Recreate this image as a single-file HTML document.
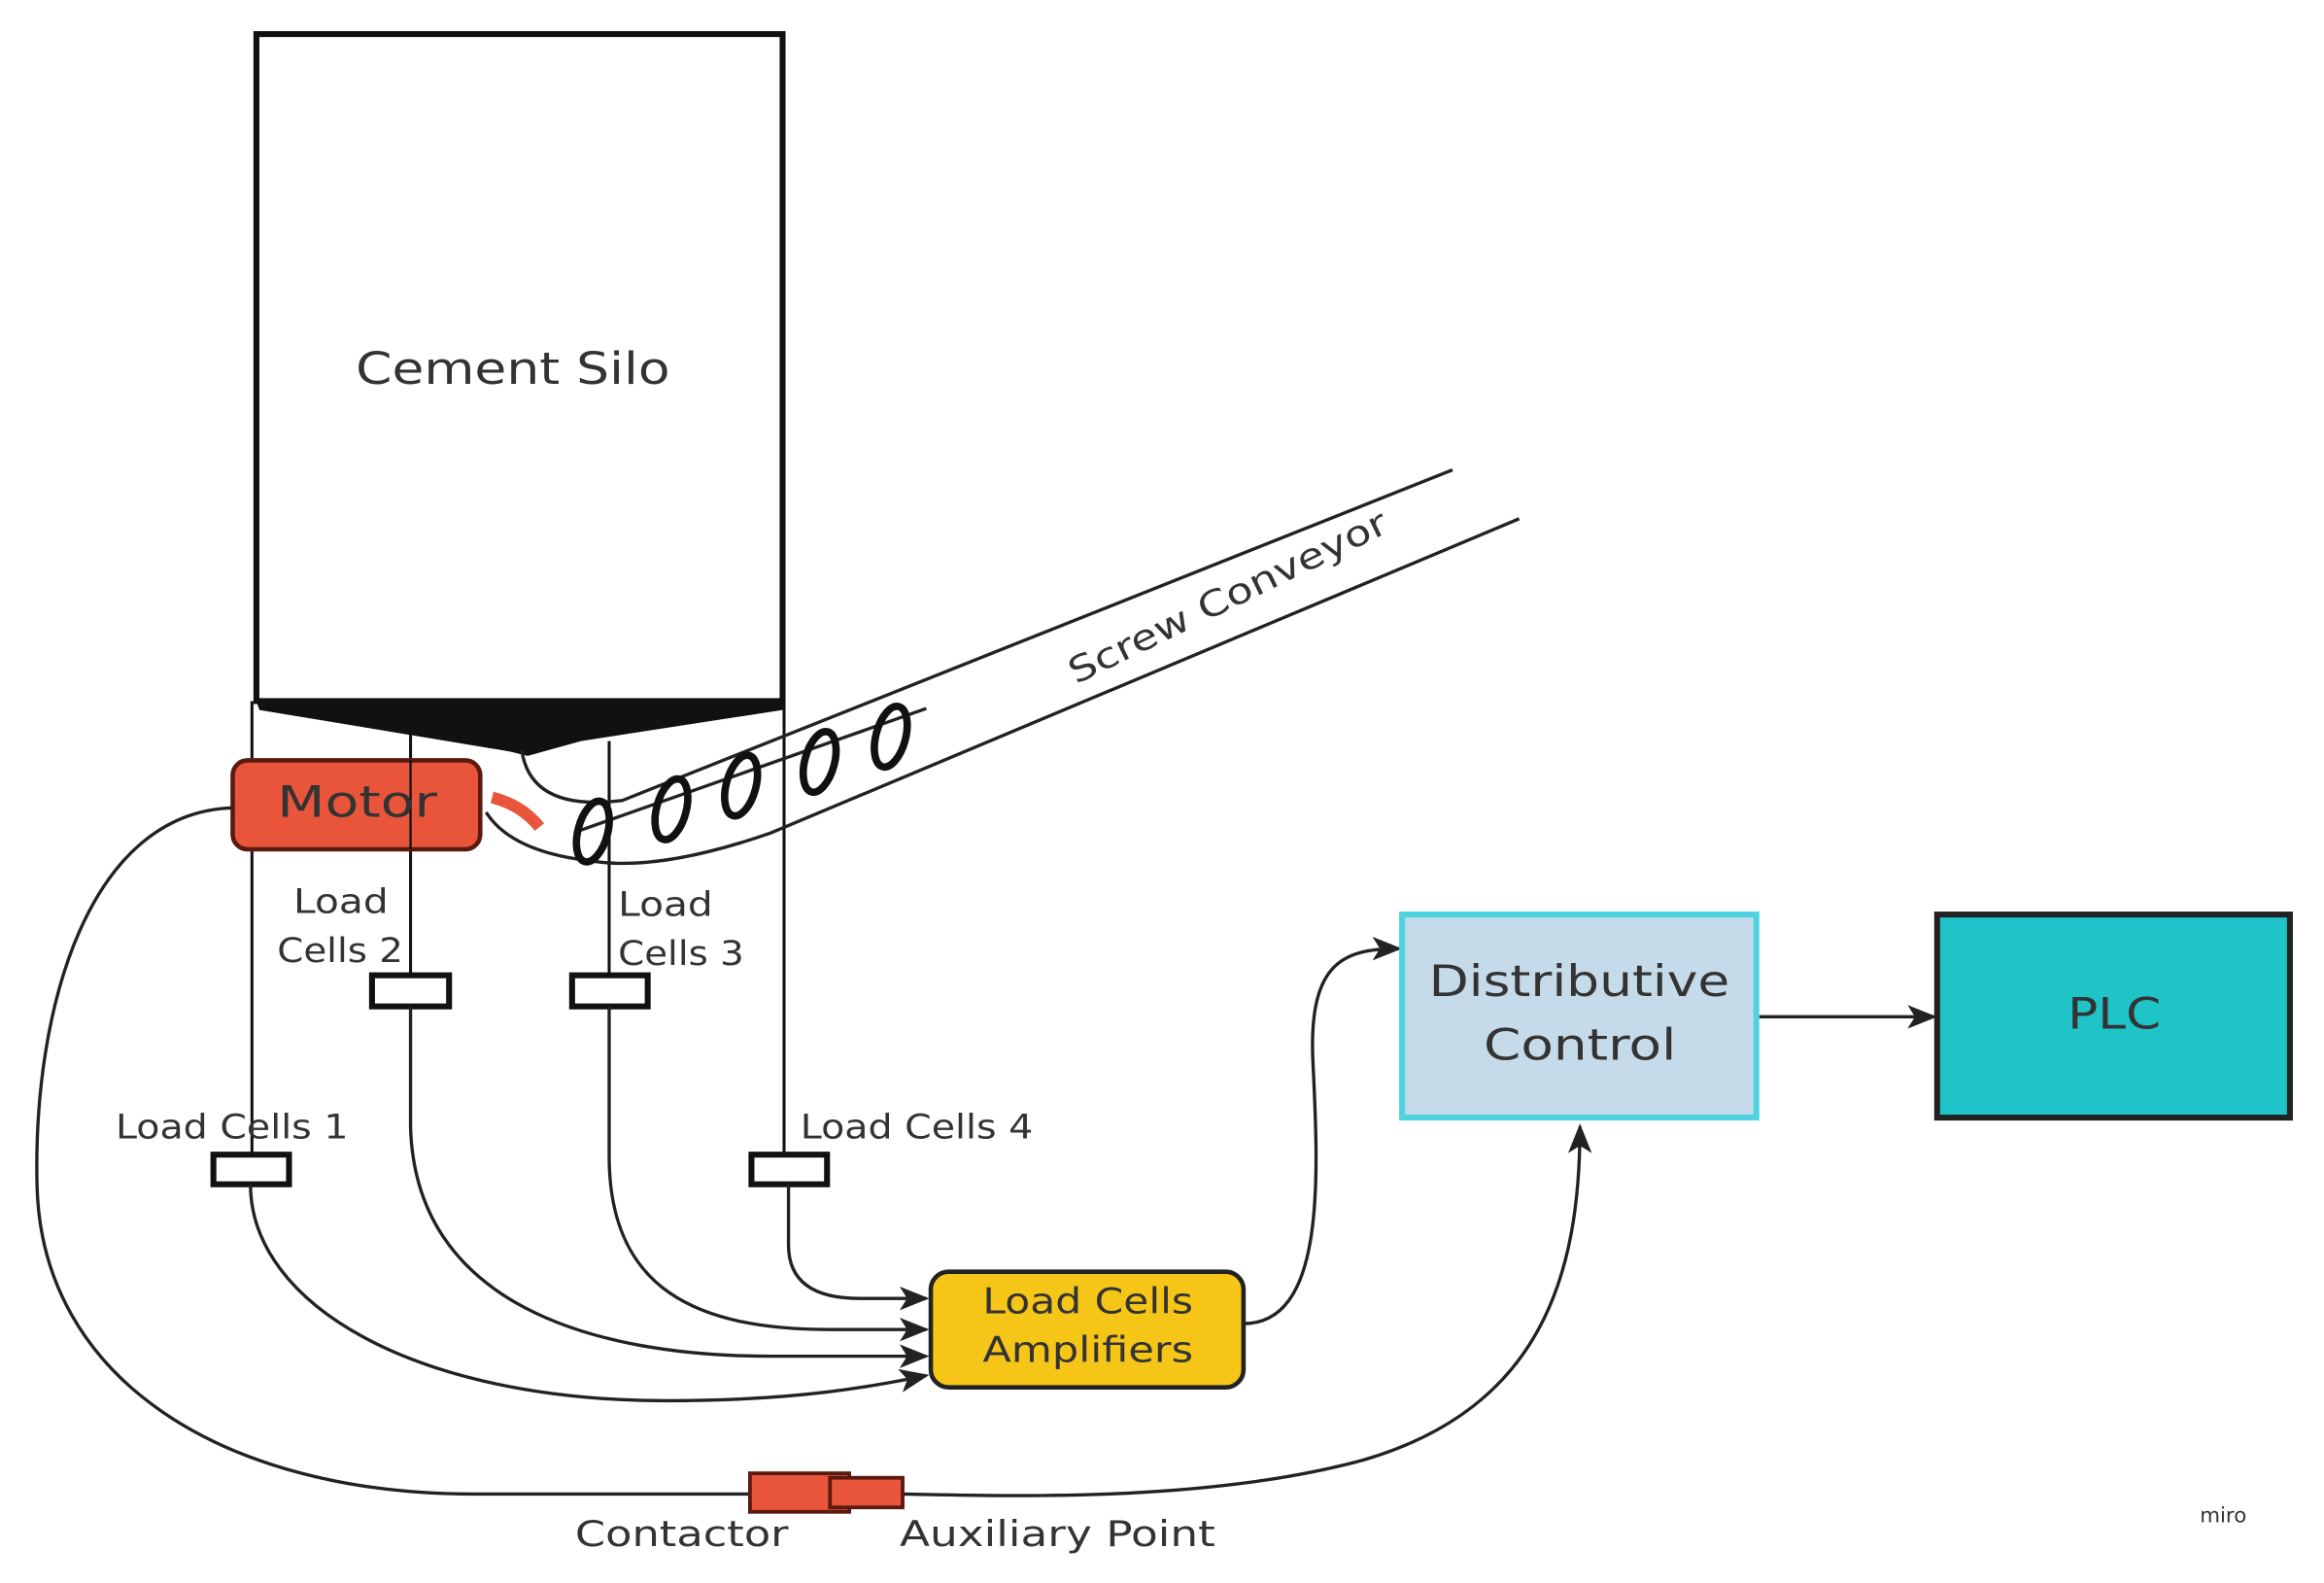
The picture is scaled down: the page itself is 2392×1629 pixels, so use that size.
<!DOCTYPE html>
<html><head><meta charset="utf-8"><style>
html,body{margin:0;padding:0;background:#fff;}
svg{display:block;}
text{font-family:"DejaVu Sans","Liberation Sans",sans-serif;fill:#333;}
</style></head><body>
<svg width="2392" height="1629" viewBox="0 0 1568 1068" xmlns="http://www.w3.org/2000/svg" preserveAspectRatio="none">
<defs>
<marker id="ahb" markerWidth="20" markerHeight="16" refX="18" refY="8" orient="auto" markerUnits="userSpaceOnUse"><path d="M0,0 L20,8 L0,16 L5,8 Z" fill="#222"/></marker>
</defs>
<rect width="1568" height="1068" fill="#fff"/>
<rect x="173" y="23" width="355" height="450" fill="#fff" stroke="#111" stroke-width="4"/>
<text x="240" y="259" font-size="30" textLength="212" lengthAdjust="spacingAndGlyphs">Cement Silo</text>
<polygon points="173,473 528,473 528,479 392,500 356,510 344,507 175,479" fill="#111"/>
<g stroke="#111" stroke-width="2" fill="none">
<line x1="170" y1="473" x2="170" y2="780"/>
<line x1="277" y1="490" x2="277" y2="660"/>
<line x1="411" y1="500" x2="411" y2="660"/>
<line x1="529" y1="473" x2="529" y2="780"/>
</g>
<g stroke="#222" stroke-width="2.2" fill="none">
<path d="M980,317 L420,540 Q358,548 352,506"/>
<path d="M1025,350 L520,562 Q445,588 400,581 Q345,575 328,548"/>
<path d="M625,478 L392,560"/>
</g>
<g stroke="#111" stroke-width="5" fill="none">
<ellipse cx="400" cy="561" rx="10" ry="21" transform="rotate(15 400 561)"/>
<ellipse cx="453" cy="546" rx="10" ry="21" transform="rotate(15 453 546)"/>
<ellipse cx="500" cy="530" rx="10" ry="21" transform="rotate(15 500 530)"/>
<ellipse cx="553" cy="514" rx="10" ry="21" transform="rotate(15 553 514)"/>
<ellipse cx="601" cy="497" rx="10" ry="21" transform="rotate(15 601 497)"/>
</g>
<path d="M332,538 Q352,543 364,558" stroke="#e8553a" stroke-width="8" fill="none"/>
<text x="828" y="411" font-size="24" fill="#444" text-anchor="middle" textLength="236" lengthAdjust="spacingAndGlyphs" transform="rotate(-26 828 402)">Screw Conveyor</text>
<rect x="157" y="513" width="167" height="60" rx="10" fill="#e8553a" stroke="#5a1a10" stroke-width="3"/>
<line x1="277" y1="513" x2="277" y2="573" stroke="#111" stroke-width="1.5"/>
<text x="187" y="551" font-size="29" fill="#4a1208" textLength="108" lengthAdjust="spacingAndGlyphs">Motor</text>
<g fill="#fff" stroke="#111" stroke-width="4">
<rect x="144" y="779" width="51" height="20"/>
<rect x="251" y="658" width="52" height="21"/>
<rect x="386" y="658" width="51" height="21"/>
<rect x="507" y="779" width="51" height="20"/>
</g>
<g font-size="23" fill="#3a3a3a">
<text x="198" y="616" textLength="64" lengthAdjust="spacingAndGlyphs">Load</text>
<text x="187" y="649" textLength="85" lengthAdjust="spacingAndGlyphs">Cells 2</text>
<text x="417" y="618" textLength="64" lengthAdjust="spacingAndGlyphs">Load</text>
<text x="417" y="651" textLength="85" lengthAdjust="spacingAndGlyphs">Cells 3</text>
<text x="78" y="768" textLength="157" lengthAdjust="spacingAndGlyphs">Load Cells 1</text>
<text x="540" y="768" textLength="157" lengthAdjust="spacingAndGlyphs">Load Cells 4</text>
</g>
<g stroke="#222" stroke-width="2.2" fill="none">
<path d="M532,799 L532,840 Q532,876 580,876 L625,876" marker-end="url(#ahb)"/>
<path d="M411,679 L411,780 C411,870 470,897 560,897 L625,897" marker-end="url(#ahb)"/>
<path d="M277,679 L277,760 C280,880 400,915 520,915 L625,915" marker-end="url(#ahb)"/>
<path d="M169,799 C169,880 280,945 450,945 C540,945 590,935 625,928" marker-end="url(#ahb)"/>
<path d="M157,545 C60,548 22,680 25,800 C28,930 150,1008 320,1008 L506,1008"/>
<path d="M839,893 C893,893 890,800 886,720 C882,650 905,640 944,640" marker-end="url(#ahb)"/>
<path d="M609,1008 C700,1010 820,1012 920,985 C1040,950 1066,860 1066,760" marker-end="url(#ahb)"/>
<path d="M1187,686 L1305,686" marker-end="url(#ahb)"/>
</g>
<rect x="628" y="858" width="211" height="78" rx="12" fill="#f5c518" stroke="#222" stroke-width="3"/>
<text x="663" y="886" font-size="24" textLength="142" lengthAdjust="spacingAndGlyphs">Load Cells</text>
<text x="663" y="919" font-size="24" textLength="142" lengthAdjust="spacingAndGlyphs">Amplifiers</text>
<rect x="946" y="617" width="239" height="137" fill="#c5dbe9" stroke="#4dd3e0" stroke-width="4"/>
<text x="964" y="672" font-size="29" textLength="203" lengthAdjust="spacingAndGlyphs">Distributive</text>
<text x="1001" y="715" font-size="29" textLength="130" lengthAdjust="spacingAndGlyphs">Control</text>
<rect x="1307" y="617" width="238" height="137" fill="#1ec4c8" stroke="#222" stroke-width="4"/>
<text x="1395" y="694" font-size="29" textLength="63" lengthAdjust="spacingAndGlyphs">PLC</text>
<rect x="506" y="994" width="67" height="26" fill="#e8553a" stroke="#5a1a10" stroke-width="2.5"/>
<rect x="560" y="997" width="49" height="20" fill="#e8553a" stroke="#5a1a10" stroke-width="2.5"/>
<text x="388" y="1043" font-size="24" textLength="144" lengthAdjust="spacingAndGlyphs">Contactor</text>
<text x="607" y="1043" font-size="24" textLength="213" lengthAdjust="spacingAndGlyphs">Auxiliary Point</text>
<text x="1500" y="1027" font-size="14" fill="#ccc" text-anchor="middle">miro</text>
</svg>
</body></html>
